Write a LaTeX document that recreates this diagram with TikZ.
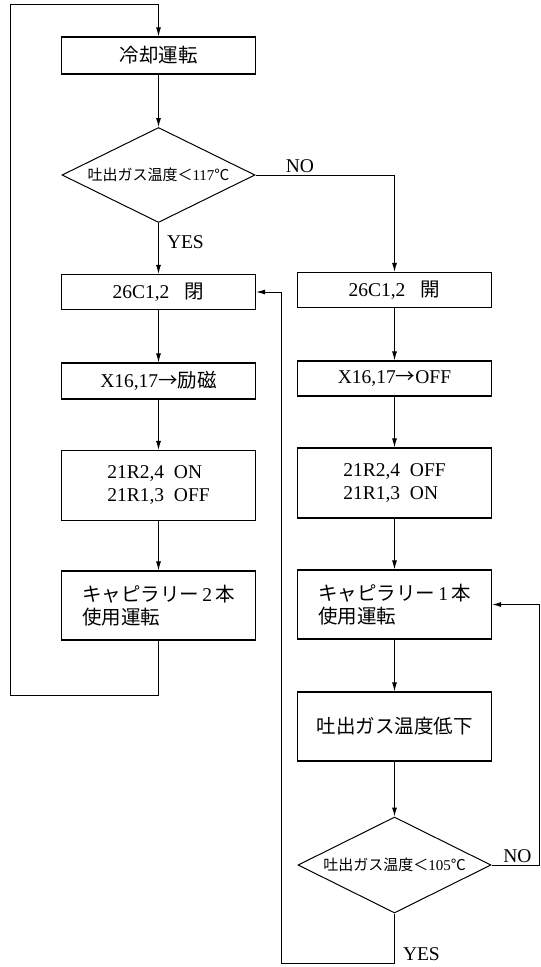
\documentclass[tikz,border=0pt]{standalone}
\usepackage{fontspec}
\setmainfont{Liberation Serif}
\newfontfamily\jpfont{Noto Sans CJK JP}
\usepackage{tikz}
\usetikzlibrary{positioning,arrows.meta,shapes.geometric}
\newcommand{\ja}[1]{{\jpfont #1}}
\tikzset{
  pbox/.style={rectangle, draw, align=center, line width=1.1pt,
               minimum width=194pt, minimum height=35pt, inner sep=2pt,
               font=\fontsize{19.5}{23}\selectfont},
  tallbox/.style={pbox, align=left, minimum height=70pt},
  dec/.style={diamond, draw, aspect=2, inner sep=0pt, line width=1pt,
              minimum width=193pt, minimum height=95pt,
              font=\fontsize{15}{18}\selectfont},
  yn/.style={font=\fontsize{19.5}{23}\selectfont, inner sep=2pt},
  ar/.style={-{Latex[length=9pt,width=5pt]}, line width=1pt},
}

\begin{document}
\begin{tikzpicture}[x=1pt, y=-1pt]
  \useasboundingbox (0,0) rectangle (541,967);
  % left column
  \node[pbox, minimum height=37pt] (cool) at (158.5,55.5) {\ja{冷却運転}};
  \node[dec] (chk1) at (158.5,175) {\ja{吐出ガス温度＜}117\ja{℃}};
  \node[pbox] (closeL) at (158.5,292) {26C1,2\hspace{0.8em}\ja{閉}};
  \node[pbox, minimum height=36pt] (excL) at (158.5,381) {X16,17\ja{→励磁}};
  \node[tallbox] (relL) at (158.5,485.5) {21R2,4\enspace ON\\21R1,3\enspace OFF};
  \node[tallbox, minimum height=69pt] (capL) at (158.5,605.5)
    {\ja{キャピラリー}\,2\,\ja{本}\\\ja{使用運転}};
  % right column
  \node[pbox] (closeR) at (394.5,290) {26C1,2\hspace{0.8em}\ja{開}};
  \node[pbox] (excR) at (394.5,378.5) {X16,17\ja{→}OFF};
  \node[tallbox] (relR) at (394.5,483) {21R2,4\enspace OFF\\21R1,3\enspace ON};
  \node[tallbox, minimum height=69pt] (capR) at (394.5,604.5)
    {\ja{キャピラリー}\,1\,\ja{本}\\\ja{使用運転}};
  \node[pbox, minimum height=69pt] (lowR) at (394.5,726.5) {\ja{吐出ガス温度低下}};
  \node[dec, minimum height=96pt] (chk2) at (394.5,865) {\ja{吐出ガス温度＜}105\ja{℃}};
  % loop corners
  \coordinate (loopB) at (10,695);
  \coordinate (loopT) at (10,4.5);
  \coordinate (retR) at (539.5,604.5);
  \coordinate (retB) at (281,963);

  \draw[ar] (cool) -- (chk1);
  \draw[ar] (chk1) -- (closeL) node[yn, pos=0.38, right=6pt] (yes1) {YES};
  \draw[ar] (chk1.east) -| (closeR.north) node[yn, pos=0.16, above] (no1) {NO};
  \draw[ar] (closeL) -- (excL);
  \draw[ar] (excL) -- (relL);
  \draw[ar] (relL) -- (capL);
  \draw[ar] (capL.south) |- (loopB) -- (loopT) -| (cool.north);
  \draw[ar] (closeR) -- (excR);
  \draw[ar] (excR) -- (relR);
  \draw[ar] (relR) -- (capR);
  \draw[ar] (capR) -- (lowR);
  \draw[ar] (lowR) -- (chk2);
  \draw[ar] (chk2.east) -| (retR) node[yn, pos=0.27, above] (no2) {NO}
    -- (capR.east);
  \draw[ar] (chk2.south) |- (retB) node[yn, pos=0.41, right=6pt] (yes2) {YES}
    |- (closeL.east);
\end{tikzpicture}
\end{document}
